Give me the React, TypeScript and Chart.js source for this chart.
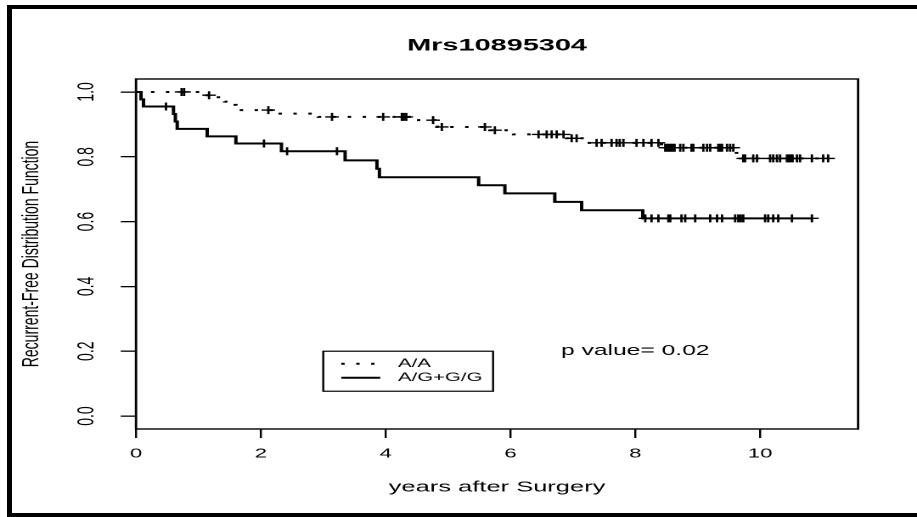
import React, { useEffect, useRef } from 'react';
import { Chart, registerables } from 'chart.js';

Chart.register(...registerables);

// ---------------- data ----------------
const chartTitle = 'Mrs10895304';
const xAxisTitle = 'years after Surgery';
const yAxisTitle = 'Recurrent-Free Distribution Function';
const seriesNames = ['A/A', 'A/G+G/G'];
const pValueText = 'p value= 0.02';

const xTicks = [0, 2, 4, 6, 8, 10];
const yTicks = [0, 0.2, 0.4, 0.6, 0.8, 1.0];

// A/A (dotted): event times and survival after each event
const aaEventTimes = [1.03, 1.32, 1.42, 1.52, 1.6, 1.66, 2.31, 2.92, 4.44, 4.79, 4.83, 5.67, 6.05, 6.9, 7.2, 8.42, 9.62, 9.7];
const aaSurv = [0.99, 0.98, 0.97, 0.96, 0.952, 0.944, 0.933, 0.923, 0.913, 0.903, 0.892, 0.882, 0.869, 0.857, 0.843, 0.828, 0.812, 0.795];
const aaCensor = [0.73, 0.77, 1.17, 2.12, 3.14, 3.96, 4.26, 4.29, 4.33, 4.76, 4.9, 5.59, 5.75, 6.45, 6.58, 6.66, 6.74, 6.85, 6.98, 7.06, 7.38, 7.46, 7.62, 7.7, 7.75, 7.81, 8.02, 8.13, 8.26, 8.37, 8.48, 8.51, 8.54, 8.57, 8.6, 8.63, 8.72, 8.77, 8.9, 8.93, 9.09, 9.15, 9.2, 9.33, 9.36, 9.39, 9.47, 9.52, 9.57, 9.73, 9.76, 9.89, 9.95, 10.16, 10.21, 10.27, 10.32, 10.43, 10.46, 10.49, 10.52, 10.59, 10.64, 10.83, 11.01, 11.09];

// A/G+G/G (solid)
const agEventTimes = [0.08, 0.12, 0.6, 0.63, 0.66, 1.14, 1.6, 2.33, 3.35, 3.86, 3.9, 5.49, 5.91, 6.71, 7.14, 8.12];
const agSurv = [0.977, 0.955, 0.932, 0.909, 0.886, 0.863, 0.841, 0.817, 0.789, 0.763, 0.737, 0.712, 0.687, 0.661, 0.635, 0.61];
const agCensor = [0.48, 2.05, 2.42, 3.22, 8.16, 8.26, 8.37, 8.53, 8.56, 8.74, 8.8, 8.96, 9.2, 9.31, 9.39, 9.6, 9.65, 9.69, 9.73, 10.08, 10.13, 10.21, 10.29, 10.51, 10.83];

// ---------------- helpers ----------------
function survAt(times: number[], surv: number[], t: number) {
  let s = 1;
  for (let i = 0; i < times.length; i++) if (times[i] <= t) s = surv[i];
  return s;
}
function stepPoints(times: number[], surv: number[], end: number) {
  const pts = [{ x: 0, y: 1 }];
  times.forEach((t, i) => pts.push({ x: t, y: surv[i] }));
  pts.push({ x: end, y: surv[surv.length - 1] });
  return pts;
}
function censorPoints(times: number[], surv: number[], cens: number[]) {
  return cens.map((t) => ({ x: t, y: survAt(times, surv, t) }));
}

const FONT = '"Liberation Sans", Arial, Helvetica, sans-serif';
const CW = 540; // logical canvas width, stretched horizontally to 917
const CH = 517;
const DOT_DASH = [2, 6.8];

const decorPlugin = {
  id: 'decor',
  afterDraw(chart: any) {
    const { ctx, chartArea: a } = chart;
    const xs = chart.scales.x;
    const ys = chart.scales.y;
    ctx.save();
    ctx.strokeStyle = '#000';
    ctx.lineWidth = 1.4;
    ctx.strokeRect(a.left, a.top, a.right - a.left, a.bottom - a.top);

    // p value text, centred at (8, 0.2)
    ctx.fillStyle = '#000';
    ctx.font = `14.5px ${FONT}`;
    ctx.textAlign = 'center';
    ctx.textBaseline = 'middle';
    ctx.fillText(pValueText, xs.getPixelForValue(8), ys.getPixelForValue(0.2));

    // legend, top-left at (3, 0.2)
    const lx = xs.getPixelForValue(3);
    const ly = ys.getPixelForValue(0.2);
    ctx.lineWidth = 1.2;
    ctx.strokeRect(lx, ly, 100, 40);
    const rows = [ly + 12.5, ly + 26.5];
    ctx.lineWidth = 2;
    ctx.setLineDash(DOT_DASH);
    ctx.beginPath();
    ctx.moveTo(lx + 10.6, rows[0]);
    ctx.lineTo(lx + 33.6, rows[0]);
    ctx.stroke();
    ctx.setLineDash([]);
    ctx.beginPath();
    ctx.moveTo(lx + 10.6, rows[1]);
    ctx.lineTo(lx + 33.6, rows[1]);
    ctx.stroke();
    ctx.font = `12px ${FONT}`;
    ctx.textAlign = 'left';
    ctx.fillText(seriesNames[0], lx + 44, rows[0]);
    ctx.fillText(seriesNames[1], lx + 44, rows[1]);
    ctx.restore();
  },
};

export default function App() {
  const ref = useRef<HTMLCanvasElement>(null);
  useEffect(() => {
    const aaEnd = Math.max(...aaCensor);
    const agEnd = Math.max(...agCensor);
    const chart = new Chart(ref.current as HTMLCanvasElement, {
      type: 'line',
      data: {
        datasets: [
          {
            label: seriesNames[0],
            data: stepPoints(aaEventTimes, aaSurv, aaEnd),
            borderColor: '#000',
            borderWidth: 2,
            borderDash: DOT_DASH,
            stepped: 'before',
            pointRadius: 0,
            fill: false,
          },
          {
            label: seriesNames[0] + ' censored',
            data: censorPoints(aaEventTimes, aaSurv, aaCensor),
            showLine: false,
            pointStyle: 'cross',
            pointRadius: 4,
            pointBorderWidth: 1.4,
            borderColor: '#000',
            backgroundColor: '#000',
          },
          {
            label: seriesNames[1],
            data: stepPoints(agEventTimes, agSurv, agEnd),
            borderColor: '#000',
            borderWidth: 2,
            stepped: 'before',
            pointRadius: 0,
            fill: false,
          },
          {
            label: seriesNames[1] + ' censored',
            data: censorPoints(agEventTimes, agSurv, agCensor),
            showLine: false,
            pointStyle: 'cross',
            pointRadius: 4,
            pointBorderWidth: 1.4,
            borderColor: '#000',
            backgroundColor: '#000',
          },
        ] as any,
      },
      options: {
        responsive: false,
        animation: false,
        devicePixelRatio: 2,
        layout: { padding: { left: 0, right: 34.7, top: 0, bottom: 0 } },
        plugins: {
          legend: { display: false },
          tooltip: { enabled: false },
          title: {
            display: true,
            text: chartTitle,
            color: '#000',
            fullSize: false,
            font: { family: FONT, size: 17, weight: 'bold' },
            padding: { top: 35.8, bottom: 22.8 },
          },
        },
        scales: {
          x: {
            type: 'linear',
            min: 0,
            max: 11.57,
            afterBuildTicks: (s: any) => {
              s.ticks = xTicks.map((v) => ({ value: v }));
            },
            afterFit: (s: any) => {
              s.height = 88;
            },
            grid: { drawOnChartArea: false, drawTicks: true, tickLength: 9, color: '#000', lineWidth: 1.2 },
            border: { display: false },
            ticks: {
              color: '#000',
              font: { family: FONT, size: 13 },
              padding: 8,
              maxRotation: 0,
              autoSkip: false,
              callback: (v: any) => String(v),
            },
            title: {
              display: true,
              text: xAxisTitle,
              color: '#000',
              font: { family: FONT, size: 15 },
              padding: { top: 0, bottom: 20.5 },
            },
          },
          y: {
            type: 'linear',
            min: -0.04,
            max: 1.04,
            afterBuildTicks: (s: any) => {
              s.ticks = yTicks.map((v) => ({ value: v }));
            },
            afterFit: (s: any) => {
              s.width = 80.1;
            },
            grid: { drawOnChartArea: false, drawTicks: true, tickLength: 9, color: '#000', lineWidth: 1.3 },
            border: { display: false },
            ticks: {
              color: '#000',
              font: { family: FONT, size: 14 },
              padding: 10,
              minRotation: 90,
              maxRotation: 90,
              crossAlign: 'center',
              autoSkip: false,
              callback: (v: any) => Number(v).toFixed(1),
            },
            title: {
              display: true,
              text: yAxisTitle,
              color: '#000',
              font: { family: FONT, size: 14 },
              padding: { top: 10.3, bottom: 0 },
            },
          },
        },
      } as any,
      plugins: [decorPlugin],
    });
    return () => chart.destroy();
  }, []);

  return (
    <div style={{ position: 'absolute', left: 0, top: 0, width: 917, height: 517, overflow: 'hidden', background: '#fff' }}>
      <div
        style={{
          position: 'absolute',
          left: 0,
          top: 0,
          width: CW,
          height: CH,
          transform: `scaleX(${917 / CW})`,
          transformOrigin: '0 0',
        }}
      >
        <canvas ref={ref} width={CW} height={CH} style={{ display: 'block' }} />
      </div>
      <div
        style={{
          position: 'absolute',
          left: 7,
          top: 5,
          width: 910,
          height: 512,
          boxSizing: 'border-box',
          borderLeft: '5px solid #000',
          borderTop: '4px solid #000',
          borderBottom: '4px solid #000',
          pointerEvents: 'none',
        }}
      />
    </div>
  );
}
